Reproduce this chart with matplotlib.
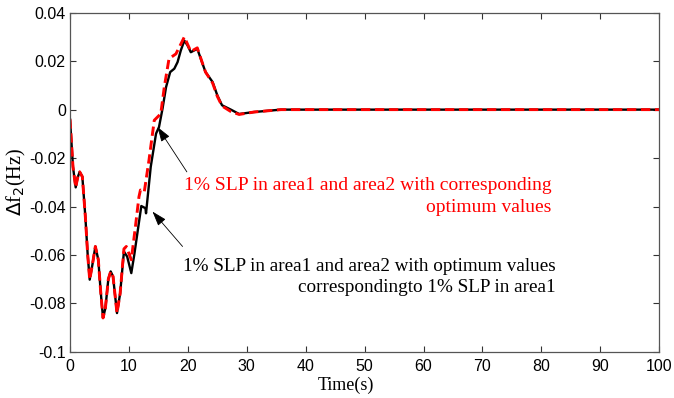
import matplotlib.pyplot as plt
from matplotlib import font_manager

# time axis and frequency deviation of area 2 (Hz)
t_black = [0, 0.5, 0.96, 1.3, 1.64, 2.09, 2.6, 3.0, 3.34, 3.8, 4.3, 4.8, 5.2, 5.6,
           6.0, 6.5, 6.9, 7.3, 7.97, 8.5, 9.15, 9.7, 10.4, 10.9, 11.35, 12.1, 12.8,
           12.9, 13.7, 14.6, 15.1, 15.7, 16.3, 17.0, 17.7, 18.25, 18.8, 19.4, 19.95,
           20.5, 21.6, 22.5, 23.0, 24.2, 25.0, 25.8, 27.3, 28.7, 31.2, 35.8, 40, 100]
df2_black = [-0.004, -0.0236, -0.0321, -0.028, -0.0257, -0.0277, -0.0442, -0.060,
             -0.0702, -0.064, -0.0565, -0.062, -0.075, -0.086, -0.082, -0.070,
             -0.0668, -0.0689, -0.084, -0.076, -0.0586, -0.0607, -0.0675, -0.060,
             -0.0524, -0.0398, -0.0407, -0.0428, -0.0236, -0.0099, -0.0072, 0.0004,
             0.0093, 0.0155, 0.0169, 0.0196, 0.0244, 0.0285, 0.0265, 0.0237, 0.0251,
             0.0189, 0.0155, 0.0114, 0.0059, 0.0018, 0.0, -0.0018, -0.001, 0.0, 0.0, 0.0]

t_red = [0, 0.5, 0.96, 1.3, 1.64, 2.09, 2.6, 3.0, 3.34, 3.8, 4.3, 4.8, 5.2, 5.6,
         6.0, 6.5, 6.9, 7.3, 7.97, 8.5, 9.15, 9.55, 10.4, 11.1, 11.7, 11.95, 12.6,
         13.4, 14.3, 15.4, 16.0, 16.8, 17.97, 18.8, 19.4, 19.95, 20.5, 21.6, 22.5,
         23.0, 24.2, 25.0, 25.8, 27.3, 28.7, 31.2, 35.8, 40, 100]
df2_red = [-0.004, -0.0236, -0.0321, -0.028, -0.0257, -0.0277, -0.0442, -0.060,
           -0.0702, -0.064, -0.0565, -0.062, -0.075, -0.086, -0.082, -0.070,
           -0.0668, -0.0689, -0.084, -0.076, -0.0575, -0.0565, -0.062, -0.0483,
           -0.036, -0.0332, -0.034, -0.0209, -0.0044, -0.0017, 0.0093, 0.021, 0.023,
           0.027, 0.030, 0.027, 0.024, 0.0255, 0.019, 0.0155, 0.011, 0.0055, 0.0015,
           -0.0008, -0.002, -0.001, 0.0, 0.0, 0.0]

xticks = [0, 10, 20, 30, 40, 50, 60, 70, 80, 90, 100]
yticks = [-0.1, -0.08, -0.06, -0.04, -0.02, 0, 0.02, 0.04]
ytick_labels = ["-0.1", "-0.08", "-0.06", "-0.04", "-0.02", "0", "0.02", "0.04"]

red_note = "1% SLP in area1 and area2 with corresponding\noptimum values"
black_note = "1% SLP in area1 and area2 with optimum values\ncorrespondingto 1% SLP in area1"

names = {f.name for f in font_manager.fontManager.ttflist}
tick_font = "Liberation Sans Narrow" if "Liberation Sans Narrow" in names else "Liberation Sans"
serif = "Liberation Serif"

fig = plt.figure(figsize=(6.74, 3.98), dpi=100)
ax = fig.add_axes([0.1039, 0.116, 0.8741, 0.852])

ax.plot(t_black, df2_black, color="black", lw=1.7, solid_joinstyle="round")
ax.plot(t_red, df2_red, color="red", lw=2.1, dashes=(3.2, 1.6))

ax.set_xlim(0, 100)
ax.set_ylim(-0.1, 0.04)
ax.set_xticks(xticks)
ax.set_xticklabels([str(v) for v in xticks])
ax.set_yticks(yticks)
ax.set_yticklabels(ytick_labels)
ax.tick_params(direction="in", top=True, right=True, length=4, width=0.8,
               labelsize=11.5, colors="#333333")
ax.tick_params(axis="x", pad=5)
ax.tick_params(axis="y", pad=3)
for lab in ax.get_xticklabels() + ax.get_yticklabels():
    lab.set_family(tick_font)
    lab.set_color("black")
for sp in ax.spines.values():
    sp.set_linewidth(0.9)
    sp.set_color("#555555")

ax.set_xlabel("Time(s)", family=serif, fontsize=13)
ax.xaxis.set_label_coords(0.468, -0.072)
ax.set_ylabel(r"$\Delta$f$_2$(Hz)", family=serif, fontsize=14.5)
ax.yaxis.set_label_coords(-0.072, 0.5)

arrow = dict(arrowstyle="-|>,head_length=0.9,head_width=0.3", color="black",
             lw=0.6, shrinkA=0, shrinkB=0)
ax.annotate("", xy=(14.86, -0.0072), xytext=(19.83, -0.0257), arrowprops=arrow)
ax.annotate("", xy=(14.0, -0.0421), xytext=(19.1, -0.0565), arrowprops=arrow)

ax.text(81.7, -0.0359, red_note, color="red", family=serif, fontsize=14,
        ha="right", va="center", multialignment="right", linespacing=1.35)
ax.text(82.4, -0.0692, black_note, color="black", family=serif, fontsize=13.8,
        ha="right", va="center", multialignment="right", linespacing=1.3)

fig.savefig("out.png", dpi=100)
